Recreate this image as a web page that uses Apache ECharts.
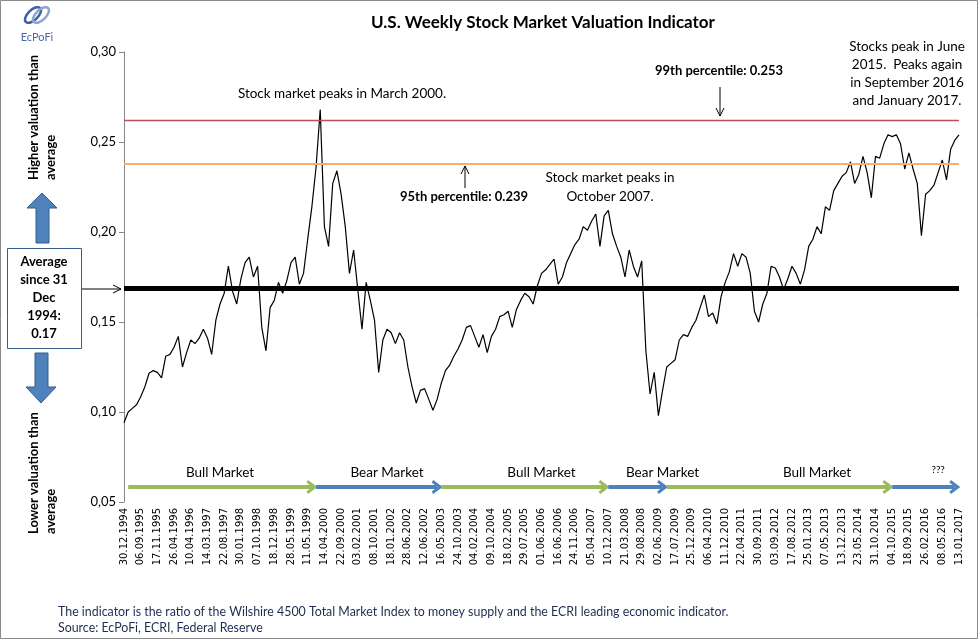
<!DOCTYPE html>
<html>
<head>
<meta charset="utf-8">
<title>U.S. Weekly Stock Market Valuation Indicator</title>
<script src="https://cdn.jsdelivr.net/npm/echarts@6/dist/echarts.min.js"></script>
<style>
  html, body { margin: 0; padding: 0; background: #fff; }
  #chart { width: 978px; height: 639px; }
</style>
</head>
<body>
<div id="chart"></div>
<script>
// tick labels shown under the x axis (one every 4 points)
const dateLabels = [
  '30.12.1994', '06.09.1995', '17.11.1995', '26.04.1996', '10.04.1996', '14.03.1997',
  '22.08.1997', '30.01.1998', '07.10.1998', '18.12.1998', '28.05.1999', '11.05.1999',
  '14.04.2000', '22.09.2000', '03.02.2001', '08.10.2001', '18.01.2002', '28.06.2002',
  '12.06.2002', '16.05.2003', '24.10.2003', '04.02.2004', '09.10.2004', '18.02.2005',
  '29.07.2005', '01.06.2006', '16.06.2006', '24.11.2006', '05.04.2007', '10.12.2007',
  '21.03.2008', '29.08.2008', '02.06.2009', '17.07.2009', '25.12.2009', '06.04.2010',
  '11.12.2010', '22.04.2011', '30.09.2011', '03.09.2012', '17.08.2012', '25.01.2013',
  '07.05.2013', '13.12.2013', '23.05.2014', '31.10.2014', '04.10.2015', '18.09.2015',
  '26.02.2016', '08.05.2016', '13.01.2017'
];
const pointsPerLabel = 4;

// valuation indicator
const valuation = [
  0.094, 0.100, 0.102, 0.104, 0.1085, 0.114, 0.1215, 0.123, 0.122, 0.119,
  0.131, 0.132, 0.136, 0.142, 0.125, 0.133, 0.140, 0.138, 0.141, 0.146,
  0.141, 0.132, 0.151, 0.160, 0.166, 0.181, 0.167, 0.160, 0.174, 0.183,
  0.186, 0.175, 0.181, 0.147, 0.134, 0.158, 0.162, 0.172, 0.166, 0.173,
  0.183, 0.186, 0.171, 0.177, 0.196, 0.214, 0.236, 0.268, 0.203, 0.192,
  0.227, 0.234, 0.221, 0.203, 0.177, 0.190, 0.168, 0.146, 0.172, 0.162,
  0.151, 0.122, 0.140, 0.146, 0.144, 0.138, 0.144, 0.140, 0.125, 0.114,
  0.105, 0.112, 0.113, 0.107, 0.101, 0.107, 0.116, 0.123, 0.126, 0.131,
  0.135, 0.140, 0.147, 0.148, 0.142, 0.136, 0.143, 0.133, 0.142, 0.146,
  0.153, 0.154, 0.156, 0.147, 0.157, 0.162, 0.166, 0.164, 0.160, 0.170,
  0.177, 0.179, 0.182, 0.185, 0.171, 0.175, 0.183, 0.188, 0.193, 0.196,
  0.203, 0.201, 0.206, 0.210, 0.192, 0.209, 0.212, 0.199, 0.192, 0.186,
  0.175, 0.190, 0.181, 0.175, 0.184, 0.134, 0.110, 0.122, 0.098, 0.112,
  0.125, 0.127, 0.129, 0.140, 0.143, 0.142, 0.147, 0.151, 0.158, 0.165,
  0.153, 0.155, 0.149, 0.164, 0.172, 0.178, 0.188, 0.181, 0.188, 0.186,
  0.177, 0.156, 0.150, 0.160, 0.166, 0.181, 0.180, 0.175, 0.168, 0.174,
  0.181, 0.177, 0.171, 0.179, 0.192, 0.196, 0.203, 0.199, 0.214, 0.212,
  0.223, 0.227, 0.231, 0.233, 0.239, 0.227, 0.232, 0.242, 0.233, 0.219,
  0.242, 0.241, 0.249, 0.254, 0.253, 0.254, 0.249, 0.235, 0.244, 0.235,
  0.227, 0.198, 0.221, 0.223, 0.226, 0.233, 0.240, 0.229, 0.246, 0.251,
  0.254
];

// reference levels
const averageLevel = 0.169;
const pct95Level = 0.238;
const pct99Level = 0.262;

// market phases (point indices) and their labels
const phaseNames = ['Bull Market', 'Bear Market', 'Bull Market', 'Bear Market', 'Bull Market', '???'];
const phaseStart = [1, 46, 76, 116, 130, 184];
const phaseEnd = [45, 75, 115, 129, 183, 199];
const phaseLabelAt = [23, 63, 100, 129, 166, 195];
const phaseLevel = 0.0583;

const bull = '#9bbb59';
const bear = '#4f81bd';
const font = 'Lato, "Open Sans", sans-serif';
const chevron = 'path://M5,0 L10,7 L8.2,8.2 L5,3.8 L1.8,8.2 L0,7 Z';

const categories = valuation.map((v, i) =>
  i % pointsPerLabel === 0 ? dateLabels[i / pointsPerLabel] : ''
);

const phaseLines = phaseNames.map((name, k) => [
  { coord: [phaseStart[k], phaseLevel], symbol: 'none' },
  {
    coord: [phaseEnd[k], phaseLevel],
    symbol: chevron,
    symbolSize: [14, 11],
    lineStyle: { color: name === 'Bull Market' ? bull : bear, width: 4, type: 'solid' }
  }
]);

const phaseLabels = phaseNames.map((name, k) => ({
  name: name,
  coord: [phaseLabelAt[k], phaseLevel],
  label: name === '???' ? { fontSize: 10, distance: 12 } : {}
}));

const chart = echarts.init(document.getElementById('chart'));

const txt = (x, y, text, extra, rotation) => ({
  type: 'text',
  x: x,
  y: y,
  rotation: rotation || 0,
  style: Object.assign({
    text: text,
    fill: '#000',
    font: '13.5px ' + font,
    align: 'center',
    verticalAlign: 'middle'
  }, extra || {})
});

const option = {
  animation: false,
  backgroundColor: '#fff',
  title: {
    text: 'U.S. Weekly Stock Market Valuation Indicator',
    left: 366,
    top: 9,
    textStyle: { fontFamily: font, fontSize: 17, fontWeight: 'bold', color: '#000' }
  },
  grid: { left: 124, right: 19, top: 52, bottom: 137, containLabel: false },
  xAxis: {
    type: 'category',
    data: categories,
    boundaryGap: false,
    axisLine: { show: false },
    axisTick: { show: false },
    axisLabel: {
      interval: pointsPerLabel - 1,
      rotate: 90,
      margin: 6,
      fontFamily: 'DejaVu Sans',
      fontSize: 10,
      color: '#000'
    },
    splitLine: { show: false }
  },
  yAxis: {
    type: 'value',
    min: 0.05,
    max: 0.30,
    interval: 0.05,
    axisLine: { show: true, lineStyle: { color: '#868686' } },
    axisTick: { show: true, length: 5, lineStyle: { color: '#868686' } },
    axisLabel: {
      formatter: v => v.toFixed(2).replace('.', ','),
      fontFamily: font,
      fontSize: 13,
      color: '#000',
      margin: 8
    },
    splitLine: { show: false }
  },
  series: [
    {
      name: 'Valuation',
      type: 'line',
      data: valuation,
      showSymbol: false,
      lineStyle: { color: '#000', width: 1.2 },
      z: 3,
      markLine: {
        silent: true,
        precision: 4,
        symbol: ['none', 'none'],
        label: { show: false },
        data: [
          { yAxis: pct99Level, lineStyle: { color: '#c0504d', width: 1.3, type: 'solid' } },
          { yAxis: pct95Level, lineStyle: { color: '#f9ac73', width: 1.8, type: 'solid' } },
          { yAxis: averageLevel, lineStyle: { color: '#000', width: 5, type: 'solid' } }
        ].concat(phaseLines)
      },
      markPoint: {
        silent: true,
        symbol: 'circle',
        symbolSize: 0,
        label: {
          show: true,
          position: 'top',
          distance: 7,
          formatter: '{b}',
          fontFamily: font,
          fontSize: 13.5,
          color: '#000'
        },
        data: phaseLabels
      }
    }
  ],
  graphic: [
    // frame
    { type: 'rect', shape: { x: 0.5, y: 0.5, width: 977, height: 638 }, style: { fill: 'none', stroke: '#8a8a8a', lineWidth: 1 } },
    // logo
    { type: 'ellipse', shape: { cx: 33, cy: 15, rx: 5, ry: 10 }, rotation: -0.8, originX: 33, originY: 15, style: { fill: 'none', stroke: '#3d5ea8', lineWidth: 2.5 } },
    { type: 'ellipse', shape: { cx: 41, cy: 15, rx: 5, ry: 10 }, rotation: -0.8, originX: 41, originY: 15, style: { fill: 'none', stroke: '#8ea4cf', lineWidth: 2.5 } },
    txt(37, 37, 'EcPoFi', { fill: '#4a66a8', font: '11px ' + font }),
    // left side explanations
    txt(25, 180, 'Higher valuation than\naverage', {
      font: 'bold 13px ' + font, align: 'left', verticalAlign: 'top', lineHeight: 17
    }, Math.PI / 2),
    txt(25, 534, 'Lower valuation than\naverage', {
      font: 'bold 13px ' + font, align: 'left', verticalAlign: 'top', lineHeight: 17
    }, Math.PI / 2),
    {
      type: 'polygon',
      shape: { points: [[42, 193], [57, 208], [49, 208], [49, 243], [36, 243], [36, 208], [27, 208]] },
      style: { fill: '#4f81bd', stroke: '#385d8a', lineWidth: 1 }
    },
    {
      type: 'polygon',
      shape: { points: [[35, 353], [48, 353], [48, 387], [56, 387], [41, 403], [26, 387], [35, 387]] },
      style: { fill: '#4f81bd', stroke: '#385d8a', lineWidth: 1 }
    },
    { type: 'rect', shape: { x: 7.5, y: 248.5, width: 74, height: 100 }, style: { fill: '#fff', stroke: '#385d8a', lineWidth: 1 } },
    txt(44, 298, 'Average\nsince 31\nDec\n1994:\n0.17', { font: 'bold 13px ' + font, lineHeight: 18 }),
    { type: 'line', shape: { x1: 82, y1: 289, x2: 121, y2: 289 }, style: { stroke: '#000', lineWidth: 1 } },
    { type: 'polyline', shape: { points: [[113, 285], [121, 289], [113, 293]] }, style: { stroke: '#000', lineWidth: 1, fill: 'none' } },
    // annotations
    txt(342, 94, 'Stock market peaks in March 2000.'),
    txt(719, 71, '99th percentile: 0.253', { font: 'bold 13px ' + font }),
    { type: 'line', shape: { x1: 720, y1: 87, x2: 720, y2: 116 }, style: { stroke: '#000', lineWidth: 1 } },
    { type: 'polyline', shape: { points: [[716, 108], [720, 116], [724, 108]] }, style: { stroke: '#000', lineWidth: 1, fill: 'none' } },
    txt(464, 197, '95th percentile: 0.239', { font: 'bold 13px ' + font }),
    { type: 'line', shape: { x1: 465, y1: 188, x2: 465, y2: 166 }, style: { stroke: '#000', lineWidth: 1 } },
    { type: 'polyline', shape: { points: [[461, 174], [465, 166], [469, 174]] }, style: { stroke: '#000', lineWidth: 1, fill: 'none' } },
    txt(610, 187, 'Stock market peaks in\nOctober 2007.', { lineHeight: 19 }),
    txt(907, 74, 'Stocks peak in June\n2015.  Peaks again\nin September 2016\nand January 2017.', { lineHeight: 18 }),
    // footnote
    txt(58, 612, 'The indicator is the ratio of the Wilshire 4500 Total Market Index to money supply and the ECRI leading economic indicator.', {
      align: 'left', fill: '#1f2d50', font: '12.4px ' + font
    }),
    txt(58, 628, 'Source: EcPoFi, ECRI, Federal Reserve', {
      align: 'left', fill: '#1f2d50', font: '12.4px ' + font
    })
  ]
};

chart.setOption(option);

window.addEventListener('resize', function () {
  chart.resize();
});
</script>
</body>
</html>
